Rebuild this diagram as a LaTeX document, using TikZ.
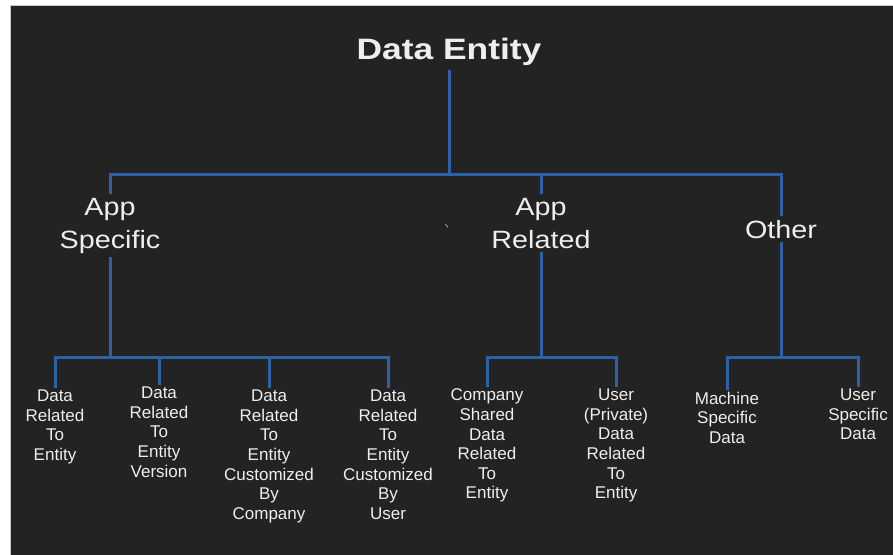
\documentclass[tikz,border=0pt]{standalone}
\usepackage{fontspec}
\setmainfont{Liberation Sans}
\newfontfamily\titlefont[FakeStretch=1.2]{Liberation Sans}
\newfontfamily\midfont[FakeStretch=1.15]{Liberation Sans}
\definecolor{bg}{HTML}{232323}
\definecolor{linkblue}{HTML}{2E61A6}
\definecolor{txt}{HTML}{EEEEEE}
\begin{document}
\begin{tikzpicture}[x=1pt,y=-1pt,
  link/.style={draw=linkblue,line width=3pt},
  titlenode/.style={text=txt,font=\titlefont\bfseries\fontsize{29.5}{32}\selectfont,inner xsep=0pt,inner ysep=5pt,outer sep=0pt,anchor=base},
  midnode/.style={text=txt,font=\midfont\fontsize{25}{33}\selectfont,align=center,inner xsep=2pt,inner ysep=4pt,outer sep=0pt},
  leafnode/.style={text=txt,font=\fontsize{17}{19.6}\selectfont,align=center,inner sep=2pt,outer sep=0pt,anchor=north}]
\useasboundingbox (0,0) rectangle (893,554);
\fill[white] (0,0) rectangle (893,554);
\filldraw[fill=bg,draw=gray!45,line width=0.8pt] (10,5) rectangle (896,557);
% stray mark
\draw[gray!70,line width=0.8pt] (445.5,224) -- (448,227.5);
% nodes
\node[titlenode] (title) at (449,59) {Data Entity};
\node[midnode,anchor=north] (appspec) at (110,194) {App\\Specific};
\node[midnode,anchor=north] (apprel) at (541,194) {App\\Related};
\node[midnode,anchor=base] (other) at (781,238) {Other};
\node[leafnode] (l1) at (55,388) {Data\\Related\\To\\Entity};
\node[leafnode] (l2) at (159,385) {Data\\Related\\To\\Entity\\Version};
\node[leafnode] (l3) at (269,388) {Data\\Related\\To\\Entity\\Customized\\By\\Company};
\node[leafnode] (l4) at (388,388) {Data\\Related\\To\\Entity\\Customized\\By\\User};
\node[leafnode] (r1) at (487,387) {Company\\Shared\\Data\\Related\\To\\Entity};
\node[leafnode] (r2) at (616,387) {User\\(Private)\\Data\\Related\\To\\Entity};
\node[leafnode] (o1) at (727,390) {Machine\\Specific\\Data};
\node[leafnode] (o2) at (858,387) {User\\Specific\\Data};
% junctions
\coordinate (j0) at (449,174);
\coordinate (bA) at (110,357);
\coordinate (bR) at (541,357);
\coordinate (bO) at (781,357);
% connectors
\draw[link] (title.south) -- (j0);
\draw[link] (j0) -| (appspec);
\draw[link] (j0) -| (apprel);
\draw[link] (j0) -| (other);
\draw[link] (appspec) -- (bA);
\draw[link] (apprel) -- (bR);
\draw[link] (other) -- (bO);
\draw[link] (bA) -| (l1);
\draw[link] (bA) -| (l2);
\draw[link] (bA) -| (l3);
\draw[link] (bA) -| (l4);
\draw[link] (bR) -| (r1);
\draw[link] (bR) -| (r2);
\draw[link] (bO) -| (o1);
\draw[link] (bO) -| (o2);
\end{tikzpicture}
\end{document}
